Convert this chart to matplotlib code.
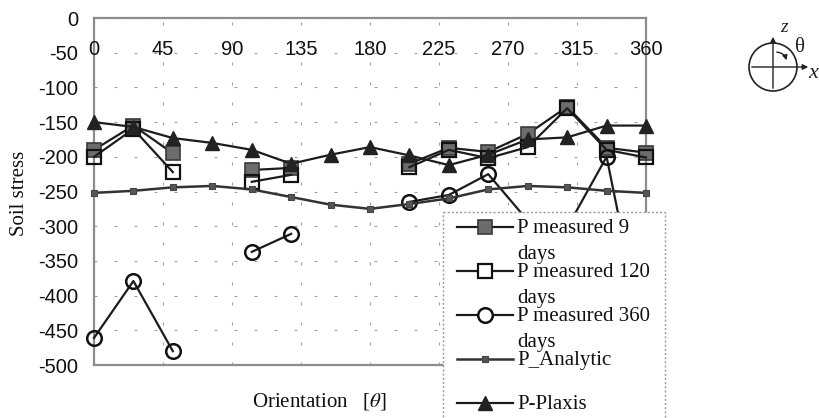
import numpy as np
import matplotlib
matplotlib.use("Agg")
import matplotlib.pyplot as plt
from matplotlib.patches import Rectangle, Circle, FancyArrowPatch

plt.rcParams['font.family'] = ['Liberation Sans', 'DejaVu Sans']
plt.rcParams['axes.unicode_minus'] = False
plt.rcParams['mathtext.fontset'] = 'stix'

nan = np.nan

# Orientation of each measuring point around the pipe (degrees)
orientation = [0, 25.7, 51.4, 77.1, 102.9, 128.6, 154.3, 180,
               205.7, 231.4, 257.1, 282.9, 308.6, 334.3, 360]

p_measured_9 = [-190, -155, -195, nan, -219, -216, nan, nan,
                -210, -187, -193, -167, -128, -187, -194]
p_measured_120 = [-200, -160, -222, nan, -236, -226, nan, nan,
                  -215, -190, -202, -186, -130, -190, -201]
p_measured_360 = [-461, -379, -480, nan, -337, -311, nan, nan,
                  -265, -255, -225, -292, -302, -200, -480]
p_analytic = [-252, -249, -244, -242, -247, -258, -269, -275,
              -268, -260, -247, -242, -244, -249, -252]
p_plaxis = [-150, -157, -173, -180, -190, -210, -197, -186,
            -198, -212, -197, -175, -172, -155, -155]

x_ticks = [0, 45, 90, 135, 180, 225, 270, 315, 360]
y_ticks = [0, -50, -100, -150, -200, -250, -300, -350, -400, -450, -500]

legend_labels = [("P measured 9", "days"),
                 ("P measured 120", "days"),
                 ("P measured 360", "days"),
                 ("P_Analytic", None),
                 ("P-Plaxis", None)]

W, H = 820, 418
fig = plt.figure(figsize=(W / 100, H / 100), dpi=100)
fig.patch.set_facecolor('white')

L, R, T, B = 94, 646, 18, 365
ax = fig.add_axes([L / W, 1 - B / H, (R - L) / W, (B - T) / H])
ax.set_xlim(0, 360)
ax.set_ylim(-500, 0)

line_col = '#1c1c1c'
styles = [
    dict(marker='s', ms=10.5, mfc='#6c6c6c', mec='#3a3a3a', mew=1.2, color=line_col, lw=1.6),
    dict(marker='s', ms=9.5, mfc='none', mec='#111111', mew=1.6, color=line_col, lw=1.6),
    dict(marker='o', ms=10.5, mfc='none', mec='#111111', mew=1.8, color=line_col, lw=1.6),
    dict(marker='s', ms=3.8, mfc='#555555', mec='#444444', mew=0.8, color='#333333', lw=1.8),
    dict(marker='^', ms=10.5, mfc='#222222', mec='#222222', mew=1.0, color=line_col, lw=1.6),
]
series = [p_measured_9, p_measured_120, p_measured_360, p_analytic, p_plaxis]
for vals, st in zip(series, styles):
    ax.plot(orientation, vals, zorder=3, clip_on=False, **st)

ax.set_xticks(x_ticks)
ax.set_yticks(y_ticks)
ax.set_yticklabels([str(v) for v in y_ticks])
ax.tick_params(axis='x', length=0, labelbottom=False)
ax.tick_params(axis='y', length=0, pad=11.5, labelsize=14.5, labelcolor='#111111')
ax.grid(True, color='#a0a0a0', lw=0.8, linestyle=(0, (2.7, 15.3)))
ax.set_axisbelow(True)
for sp in ax.spines.values():
    sp.set_color('#8c8c8c')
    sp.set_linewidth(1.6)

# Category labels sit inside the plot, just under the top edge
for xt in x_ticks:
    ax.text(xt, -46, str(xt), ha='center', va='center', fontsize=14.5,
            color='#111111', zorder=4)

# Overlay in pixel coordinates for axis titles, legend and the sketch
ov = fig.add_axes([0, 0, 1, 1], facecolor='none')
ov.set_xlim(0, W)
ov.set_ylim(H, 0)
ov.axis('off')

ov.text(20, 193, "Soil stress", rotation=90, ha='center', va='center',
        fontsize=15, family='Liberation Serif', color='#111111')
ov.text(320, 401, "Orientation   [$\\theta$]", ha='center', va='center',
        fontsize=15, family='Liberation Serif', color='#111111')

# Legend
ov.add_patch(Rectangle((443, 212), 222, 220, facecolor='white', edgecolor='#9a9a9a',
                       lw=1.0, linestyle=(0, (1.5, 1.5)), zorder=5))
base0, step = 233, 44
for i, ((first, second), st) in enumerate(zip(legend_labels, styles)):
    base = base0 + i * step
    yc = base - 6.5
    ov.plot([457, 513], [yc, yc], color=st['color'], lw=st['lw'], zorder=6)
    ov.plot([485], [yc], linestyle='none', marker=st['marker'], ms=st['ms'],
            mfc=st['mfc'] if st['mfc'] != 'none' else 'white', mec=st['mec'],
            mew=st['mew'], zorder=7)
    ov.text(517, base, first, ha='left', va='baseline', fontsize=15,
            family='Liberation Serif', color='#111111', zorder=7)
    if second:
        ov.text(517, base + 26, second, ha='left', va='baseline', fontsize=15,
                family='Liberation Serif', color='#111111', zorder=7)

# Coordinate sketch
cx, cy, r = 773, 67, 24
ov.add_patch(Circle((cx, cy), r, fill=False, edgecolor='#222222', lw=1.2))
ov.add_patch(FancyArrowPatch((cx, cy + r), (cx, cy - r - 9), arrowstyle='-|>',
                             mutation_scale=8, color='#222222', lw=1.0))
ov.add_patch(FancyArrowPatch((cx - r, cy), (cx + r + 14, cy), arrowstyle='-|>',
                             mutation_scale=8, color='#222222', lw=1.0))
ov.add_patch(FancyArrowPatch((cx + 1, cy - 15), (cx + 14, cy - 4), arrowstyle='-|>',
                             connectionstyle='arc3,rad=-0.45', mutation_scale=7,
                             color='#222222', lw=1.0))
ov.text(784, 27, "z", ha='center', va='center', fontsize=14, style='italic',
        family='Liberation Serif', color='#222222')
ov.text(800, 47, "θ", ha='center', va='center', fontsize=15,
        family='Liberation Serif', color='#222222')
ov.text(813, 74, "x", ha='center', va='center', fontsize=16, style='italic',
        family='Liberation Serif', color='#222222')

fig.savefig("out.png", dpi=100, facecolor='white')
